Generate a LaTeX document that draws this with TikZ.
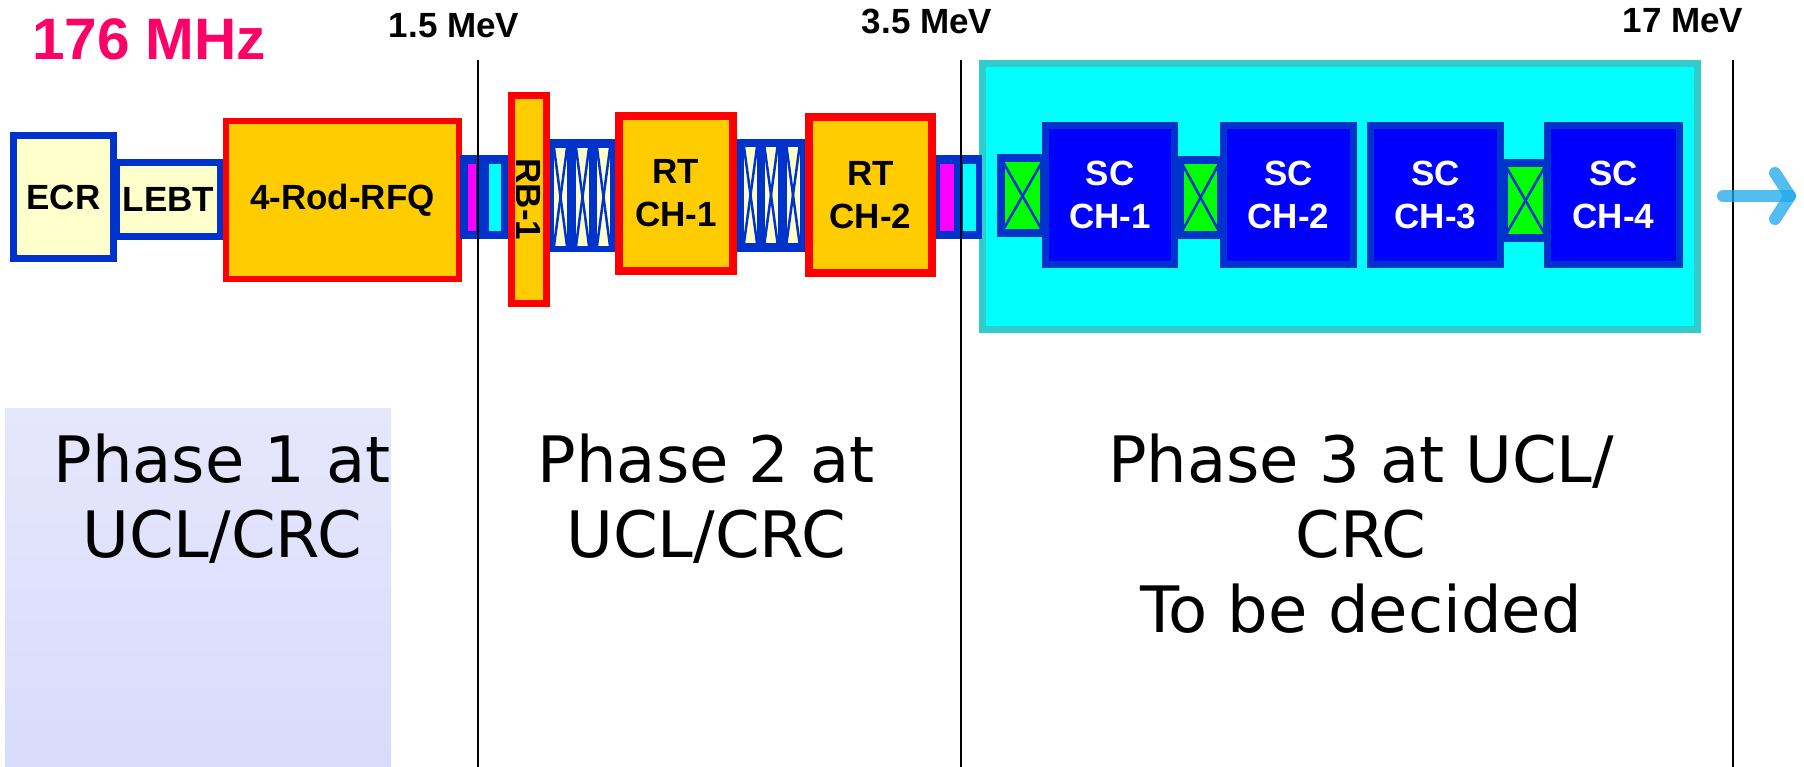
\documentclass[tikz,border=0pt]{standalone}
\usepackage{fontspec}
\setmainfont{Liberation Sans}
\newfontfamily\phasefont{DejaVu Sans}
\definecolor{beamblue}{HTML}{0033CC}
\definecolor{paleyellow}{HTML}{FFFFCC}
\definecolor{cavorange}{HTML}{FFCC00}
\definecolor{panelteal}{HTML}{33CCCC}
\definecolor{panelcyan}{HTML}{00FFFF}
\definecolor{slotpink}{HTML}{FF00FF}
\definecolor{mhzpink}{HTML}{FF0066}
\definecolor{arrowblue}{HTML}{1AA7EC}
\definecolor{lavtop}{HTML}{E6E6FC}
\definecolor{lavbot}{HTML}{D9DBFC}
\tikzstyle{box}     = [draw,inner sep=0pt,outer sep=0pt,align=center,font=\bfseries\fontsize{35}{43}\selectfont]
\tikzstyle{source}  = [box,draw=beamblue,fill=paleyellow,line width=7pt]
\tikzstyle{cavity}  = [box,draw=red,fill=cavorange,line width=7pt]
\tikzstyle{sccav}   = [box,draw=beamblue,fill=blue,text=white,line width=7pt]
\tikzstyle{diag}    = [box,draw=beamblue,fill=beamblue,line width=0pt]
\tikzstyle{slot}    = [box,draw=none,minimum height=67pt]
\tikzstyle{quad}    = [box,draw=beamblue,fill=green,line width=8pt]
\tikzstyle{lens}    = [box,draw=none,fill=paleyellow,minimum width=13pt]
\tikzstyle{energy}  = [inner sep=0pt,anchor=base,font=\bfseries\fontsize{35}{40}\selectfont]
\tikzstyle{phase}   = [inner sep=0pt,anchor=base,align=center,font=\phasefont\fontsize{64}{75}\selectfont]
\tikzstyle{beam}    = [arrowblue,opacity=0.75,line width=12pt,line cap=round,line join=round]
\begin{document}
\begin{tikzpicture}[x=1pt,y=-1pt]
\useasboundingbox (0,0) rectangle (1804,767);

\node[box,draw=none,top color=lavtop,bottom color=lavbot,minimum width=386pt,minimum height=359pt] (bg) at (198,587.5) {};

\node[box,draw=panelteal,fill=panelcyan,line width=7pt,minimum width=715pt,minimum height=266pt] (panel) at (1340,196.5) {};

\node[source,minimum width=104pt,minimum height=74pt]  (LEBT) at (168.5,199.5) {LEBT};
\node[source,minimum width=100pt,minimum height=123pt] (ECR)  at (63.5,197)   {ECR};
\node[cavity,line width=6pt,minimum width=233pt,minimum height=158pt] (RFQ) at (342.5,200) {4-Rod-RFQ};

\node[diag,minimum width=49pt,minimum height=83pt] (D1) at (484.5,197.5) {};
\node[slot,fill=slotpink,minimum width=8pt]   (D1a) at (472,197.5) {};
\node[slot,fill=panelcyan,minimum width=12pt] (D1b) at (495,197.5) {};

\node[diag,minimum width=47pt,minimum height=83pt] (D2) at (958,197.5) {};
\node[slot,fill=slotpink,minimum width=14pt]  (D2a) at (947,197.5) {};
\node[slot,fill=panelcyan,minimum width=13pt] (D2b) at (969.5,197.5) {};

\node[diag,minimum width=68pt,minimum height=112pt] (T1) at (584,196) {};
\node[diag,minimum width=70pt,minimum height=112pt] (T2) at (771,196) {};
\foreach \name/\x/\y/\h in {a/560.5/197/98,b/582.5/197/98,c/603.5/197/98,d/750.5/195/96,e/771/195/96,f/793/195/96}
{
  \node[lens,minimum height=\h pt] (L\name) at (\x,\y) {};
  \draw[beamblue,line width=2.5pt] (L\name.north west) -- (L\name.south east);
  \draw[beamblue,line width=2.5pt] (L\name.north east) -- (L\name.south west);
}

\node[cavity,rotate=-90,minimum width=208pt,minimum height=35pt] (RB1) at (529,199.5) {RB-1};
\node[cavity,line width=8pt,minimum width=114pt,minimum height=155pt] (RT1) at (676,193.5) {RT\\CH-1};
\node[cavity,line width=8pt,minimum width=123pt,minimum height=156pt] (RT2) at (870.5,195)  {RT\\CH-2};

\foreach \name/\x/\y/\w in {1/1022.5/196/43,2/1200.5/197.5/41,3/1525.5/200.5/43}
{
  \node[quad,minimum width=\w pt,minimum height=75pt] (Q\name) at (\x,\y) {};
  \draw[beamblue,line width=2.5pt] (Q\name.north west) -- (Q\name.south east);
  \draw[beamblue,line width=2.5pt] (Q\name.north east) -- (Q\name.south west);
}

\node[sccav,minimum width=129pt,minimum height=139pt] (SC1) at (1110,195)   {SC\\CH-1};
\node[sccav,minimum width=130pt,minimum height=139pt] (SC2) at (1288.5,195) {SC\\CH-2};
\node[sccav,minimum width=130pt,minimum height=139pt] (SC3) at (1435.5,195) {SC\\CH-3};
\node[sccav,minimum width=132pt,minimum height=139pt] (SC4) at (1613.5,195) {SC\\CH-4};

\foreach \name/\x in {1/477.5,2/961,3/1733}
{
  \coordinate (top\name) at (\x,60);
  \coordinate (bot\name) at (\x,767);
  \draw[line width=2pt] (top\name) -- (bot\name);
}

\coordinate (B0) at (1723,196);
\coordinate (B1) at (1790,196);
\coordinate (B2) at (1775,173);
\coordinate (B3) at (1775,219);
\draw[beam] (B0) -- (B1);
\draw[beam] (B2) -- (B1) -- (B3);

\node[inner sep=0pt,anchor=base west,text=mhzpink,font=\bfseries\fontsize{58.5}{60}\selectfont] (MHZ) at (32,60) {176 MHz};
\node[energy] (E1) at (454,38)  {1.5 MeV};
\node[energy] (E2) at (927,34)  {3.5 MeV};
\node[energy] (E3) at (1683,33) {17 MeV};

\node[phase] (P1) at (222,557)  {Phase 1 at\\UCL/CRC};
\node[phase] (P2) at (706,557)  {Phase 2 at\\UCL/CRC};
\node[phase] (P3) at (1361,632) {Phase 3 at UCL/\\CRC\\To be decided};

\end{tikzpicture}
\end{document}
